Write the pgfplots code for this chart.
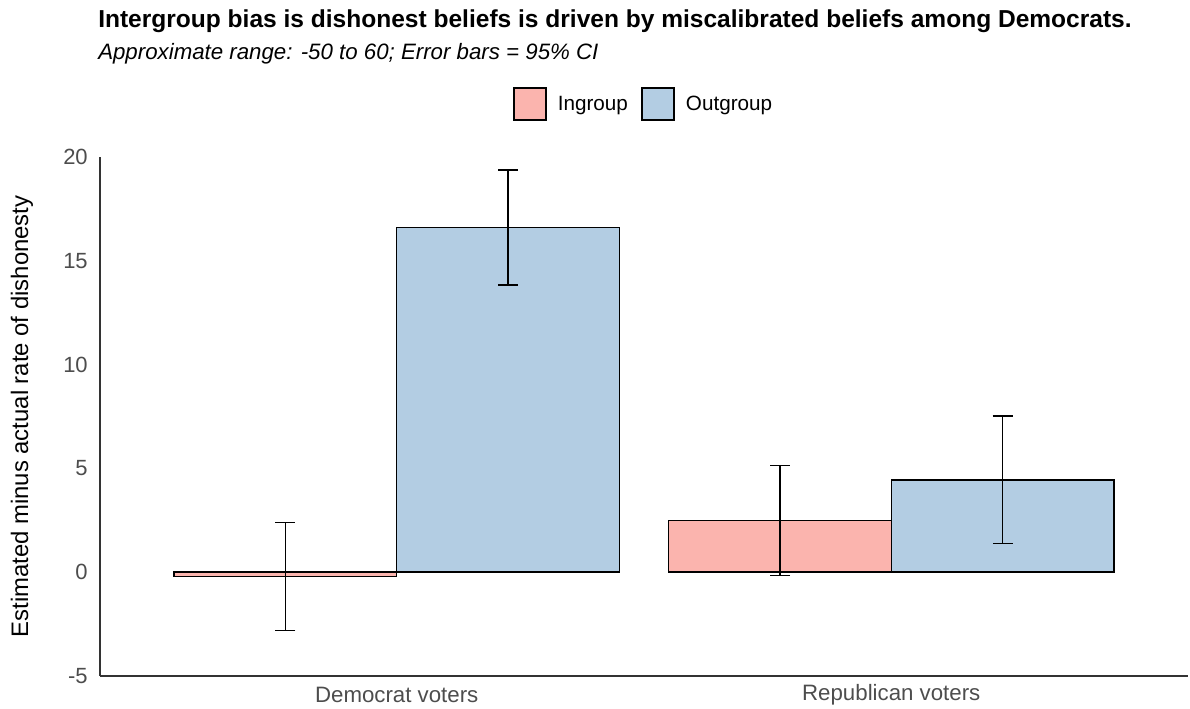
\documentclass[border=0pt]{standalone}
\usepackage{fontspec}
\setmainfont{Liberation Sans}
\usepackage{pgfplots}
\pgfplotsset{compat=1.18}
\definecolor{ingroup}{HTML}{FBB4AE}
\definecolor{outgroup}{HTML}{B3CDE3}
\definecolor{axgrey}{HTML}{333333}
\definecolor{tickgrey}{HTML}{4D4D4D}
\begin{document}
\begin{tikzpicture}
\path[use as bounding box] (-75pt,-24.75pt) rectangle (817.5pt,507pt);
\begin{axis}[
  scale only axis,
  width=816pt, height=389.25pt,
  xmin=0.4, xmax=2.6, ymin=-5, ymax=20,
  axis x line*=bottom, axis y line*=left,
  axis line style={draw=axgrey, line width=1.1pt},
  major tick length=0pt,
  xtick={1,2}, xticklabels={Democrat voters, Republican voters},
  ytick={-5,0,5,10,15,20}, yticklabels={-5,0,5,10,15,20},
  xticklabel style={font=\fontsize{16.7}{19}\selectfont, text=tickgrey, anchor=center, yshift=-14pt},
  yticklabel style={font=\fontsize{16.5}{19}\selectfont, text=tickgrey, anchor=east, inner sep=0pt, xshift=-9pt},
  ylabel={Estimated minus actual rate of dishonesty},
  ylabel style={font=\fontsize{17.9}{21}\selectfont, at={(axis description cs:-0.0717,0.5)}, anchor=center},
  ybar=0pt, bar width=0.45,
  legend columns=2,
  legend style={draw=none, fill=none, at={(axis description cs:0.5,1.102)}, anchor=center,
    font=\fontsize{15.5}{18}\selectfont,
    /tikz/every odd column/.append style={column sep=6.5pt},
    /tikz/every even column/.append style={column sep=8pt}},
  legend image code/.code={\draw[#1, draw=black, line width=1pt] (0pt,-12pt) rectangle (24pt,12pt);},
  error bars/y dir=both, error bars/y explicit,
  error bars/error bar style={black, line width=1.1pt},
  error bars/error mark options={rotate=90, mark size=7.5pt, line width=1.1pt, black},
  clip=false,
]
\addplot[fill=ingroup, draw=black, line width=1.1pt, bar shift=-0.225]
  coordinates {(1,-0.2) +- (0,2.6) (2,2.5) +- (0,2.65)};
\addplot[fill=outgroup, draw=black, line width=1.1pt, bar shift=0.225]
  coordinates {(1,16.6) +- (0,2.77) (2,4.45) +- (0,3.08)};
\legend{Ingroup, Outgroup}
\end{axis}
\node[anchor=west, inner sep=0pt, font=\bfseries\fontsize{18.4}{22}\selectfont] at (-1.5pt,491pt)
  {Intergroup bias is dishonest beliefs is driven by miscalibrated beliefs among Democrats.};
\node[anchor=west, inner sep=0pt, font=\itshape\fontsize{16.7}{20}\selectfont] at (-1.5pt,467pt)
  {Approximate range: -50 to 60; Error bars = 95\% CI};
\end{tikzpicture}
\end{document}
